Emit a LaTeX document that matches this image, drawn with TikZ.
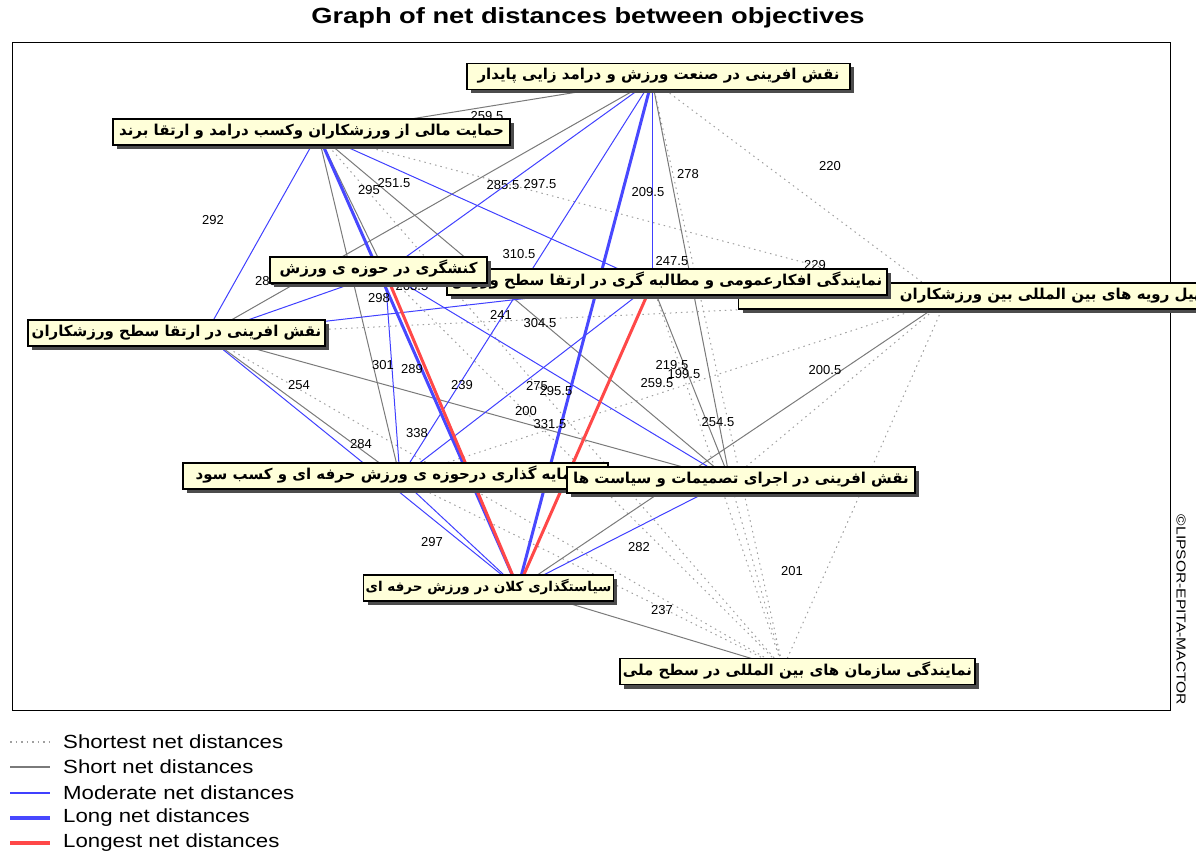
\documentclass[tikz,border=0pt]{standalone}
\usepackage{fontspec}
\setmainfont{Liberation Sans}
\newfontfamily\fa[Script=Arabic]{DejaVu Sans}
\TeXXeTstate=1
\usetikzlibrary{shadows}
\definecolor{nodefill}{HTML}{FFFFD9}
\definecolor{dotgray}{HTML}{A0A0A0}
\definecolor{shortgray}{HTML}{7A7A7A}
\definecolor{modblue}{HTML}{4040FF}
\definecolor{longblue}{HTML}{4848FF}
\definecolor{longred}{HTML}{FF4848}
\tikzset{
  obj/.style={draw=black, line width=1.2pt, fill=nodefill, inner xsep=2pt, inner ysep=0pt,
    text height=12pt, text depth=5pt, minimum height=26pt,
    font=\fa\bfseries\fontsize{15}{17}\selectfont,
    drop shadow={shadow xshift=4pt, shadow yshift=-4pt, fill=black!70, opacity=1}},
  shortest/.style={dotgray, line width=1pt, dash pattern=on 1.5pt off 4pt},
  short/.style={shortgray, line width=1pt},
  moderate/.style={modblue, line width=1pt},
  long/.style={longblue, line width=3pt},
  longest/.style={longred, line width=3pt},
  dist/.style={font=\fontsize{13}{14}\selectfont, inner sep=0pt},
  legtext/.style={font=\fontsize{19}{21}\selectfont, anchor=west, inner sep=0pt},
}
\begin{document}
\begin{tikzpicture}[x=1pt,y=-1pt]
\useasboundingbox (0,0) rectangle (1196,856);
% title and frame
\node[font=\bfseries\fontsize{22}{24}\selectfont] (title) at (588,18) {\scalebox{1.24}[1]{Graph of net distances between objectives}};
\draw[line width=1pt] (12,43) rectangle (1170,710);
\node[rotate=-90, font=\fontsize{13}{14}\selectfont] (copy) at (1181,610) {\scalebox{1.2}[1]{©LIPSOR-EPITA-MACTOR}};
% anchors of the objectives
\coordinate (a1) at (652,80);
\coordinate (a2) at (318,134);
\coordinate (a3) at (385,272);
\coordinate (a4) at (652,284);
\coordinate (a5) at (946,300);
\coordinate (a6) at (205,335);
\coordinate (a7) at (400,478);
\coordinate (a8) at (730,480);
\coordinate (a9) at (518,588);
\coordinate (a10) at (783,668);
% shortest
\foreach \p/\q in {1/5,1/10,2/5,2/10,3/4,3/5,3/10,4/5,4/10,5/6,5/7,5/8,5/10,6/10,7/10,8/10}
  \draw[shortest] (a\p) -- (a\q);
% short
\foreach \p/\q in {1/2,1/6,1/8,2/3,2/7,2/8,4/8,5/9,6/7,6/8,7/8,9/10}
  \draw[short] (a\p) -- (a\q);
% moderate
\foreach \p/\q in {1/3,1/4,1/7,2/4,2/6,3/6,3/7,3/8,4/6,4/7,6/9,7/9,8/9}
  \draw[moderate] (a\p) -- (a\q);
% long
\draw[long] (a1) -- (a9);
\draw[long] (a2) -- (a9);
% longest
\draw[longest] (a3) -- (a9);
\draw[longest] (a4) -- (a9);
% distance labels
\node[dist] (d1) at (487,116) {259.5};
\node[dist] (d2) at (830,166) {220};
\node[dist] (d3) at (688,174) {278};
\node[dist] (d4) at (213,220) {292};
\node[dist] (d5) at (369,190) {295};
\node[dist] (d6) at (394,183) {251.5};
\node[dist] (d7) at (503,185) {285.5};
\node[dist] (d8) at (540,184) {297.5};
\node[dist] (d9) at (648,192) {209.5};
\node[dist] (d10) at (519,254) {310.5};
\node[dist] (d11) at (672,261) {247.5};
\node[dist] (d12) at (815,265) {229};
\node[dist] (d13) at (266,281) {283};
\node[dist] (d14) at (379,298) {298};
\node[dist] (d15) at (412,286) {263.5};
\node[dist] (d16) at (501,315) {241};
\node[dist] (d17) at (540,323) {304.5};
\node[dist] (d18) at (383,365) {301};
\node[dist] (d19) at (412,369) {289};
\node[dist] (d20) at (299,385) {254};
\node[dist] (d21) at (462,385) {239};
\node[dist] (d22) at (537,386) {275};
\node[dist] (d23) at (556,391) {295.5};
\node[dist] (d24) at (672,365) {219.5};
\node[dist] (d25) at (657,383) {259.5};
\node[dist] (d26) at (684,374) {199.5};
\node[dist] (d27) at (825,370) {200.5};
\node[dist] (d28) at (526,411) {200};
\node[dist] (d29) at (550,424) {331.5};
\node[dist] (d30) at (718,422) {254.5};
\node[dist] (d31) at (417,433) {338};
\node[dist] (d32) at (361,444) {284};
\node[dist] (d33) at (432,542) {297};
\node[dist] (d34) at (639,547) {282};
\node[dist] (d35) at (792,571) {201};
\node[dist] (d36) at (662,610) {237};
% objectives
\node[obj, minimum width=493pt] (n5) at (985,296) {\makebox[480pt][r]{\beginR تسهیل رویه های بین المللی بین ورزشکاران\endR}};
\node[obj, minimum width=440pt] (n4) at (667,282) {\beginR نمایندگی افکارعمومی و مطالبه گری در ارتقا سطح ورزش\endR};
\node[obj, minimum width=217pt] (n3) at (378.5,270) {\beginR کنشگری در حوزه ی ورزش\endR};
\node[obj, minimum width=383pt] (n1) at (658.5,76.5) {\beginR نقش افرینی در صنعت ورزش و درامد زایی پایدار\endR};
\node[obj, minimum width=397pt] (n2) at (311.5,132) {\beginR حمایت مالی از ورزشکاران وکسب درامد و ارتقا برند\endR};
\node[obj, minimum width=297pt] (n6) at (176.5,333) {\beginR نقش افرینی در ارتقا سطح ورزشکاران\endR};
\node[obj, minimum width=425pt] (n7) at (395.5,476) {\beginR سرمایه گذاری درحوزه ی ورزش حرفه ای و کسب سود\endR};
\node[obj, minimum width=348pt] (n8) at (741,480) {\beginR نقش افرینی در اجرای تصمیمات و سیاست ها\endR};
\node[obj, minimum width=247pt, font=\fa\bfseries\fontsize{13.5}{16}\selectfont] (n9) at (488.5,588) {\beginR سیاستگذاری کلان در ورزش حرفه ای\endR};
\node[obj, minimum width=355pt] (n10) at (797.5,671.5) {\beginR نمایندگی سازمان های بین المللی در سطح ملی\endR};
% legend
\draw[shortest, line width=1.2pt] (10,742) -- (50,742);
\node[legtext] (g1) at (63,742) {\scalebox{1.17}[1]{Shortest net distances}};
\draw[short, line width=1.6pt] (10,767) -- (50,767);
\node[legtext] (g2) at (63,767) {\scalebox{1.17}[1]{Short net distances}};
\draw[moderate, line width=1.4pt] (10,793) -- (50,793);
\node[legtext] (g3) at (63,793) {\scalebox{1.17}[1]{Moderate net distances}};
\draw[long, line width=3.5pt] (10,818) -- (50,818);
\node[legtext] (g4) at (63,818) {\scalebox{1.17}[1]{Long net distances}};
\draw[longest, line width=3.5pt] (10,843) -- (50,843);
\node[legtext] (g5) at (63,843) {\scalebox{1.17}[1]{Longest net distances}};
\end{tikzpicture}
\end{document}
